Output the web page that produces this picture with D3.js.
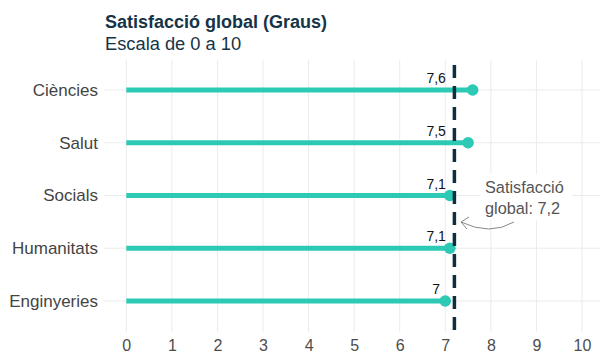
<!DOCTYPE html>
<html><head><meta charset="utf-8">
<script src="https://cdn.jsdelivr.net/npm/d3@7"></script>
<style>body{margin:0;background:#fff}svg{display:block;font-family:"Liberation Sans",Arial,sans-serif}</style>
</head><body><svg id="c" width="600" height="358"></svg>
<script>
const categories = ["Ciències","Salut","Socials","Humanitats","Enginyeries"];
const values = [7.6, 7.5, 7.1, 7.1, 7.0];
const valueLabels = ["7,6","7,5","7,1","7,1","7"];
const xTicks = [0,1,2,3,4,5,6,7,8,9,10];
const globalMean = 7.2;
const annotationLines = ["Satisfacció","global: 7,2"];
const title = "Satisfacció global (Graus)";
const subtitle = "Escala de 0 a 10";

(function(){
const svg = d3.select("#c");
const x = d3.scaleLinear().domain([0,10]).range([126.3,582]);
const y = d3.scalePoint().domain(categories).range([90,301]);
const pTop = 60, pBottom = 332, pLeft = 104, pRight = 600;
const teal = "#2ccab5", navy = "#0f2f40";

// grid
svg.append("g").selectAll("line").data(xTicks).join("line")
  .attr("x1",d=>x(d)).attr("x2",d=>x(d)).attr("y1",pTop).attr("y2",pBottom)
  .attr("stroke","#ebebeb").attr("stroke-width",1);
svg.append("g").selectAll("line").data(categories).join("line")
  .attr("x1",pLeft).attr("x2",pRight).attr("y1",d=>y(d)).attr("y2",d=>y(d))
  .attr("stroke","#ebebeb").attr("stroke-width",1);

// axes
const xa = svg.append("g").attr("transform",`translate(0,${pBottom})`)
  .call(d3.axisBottom(x).tickValues(xTicks).tickSize(0).tickPadding(8).tickFormat(d3.format("d")));
xa.select(".domain").remove();
xa.selectAll("text").attr("font-size",16).attr("fill","#4d4d4d").attr("font-family","Liberation Sans, Arial, sans-serif");

const ya = svg.append("g").attr("transform",`translate(${pLeft},0)`)
  .call(d3.axisLeft(y).tickSize(0).tickPadding(6));
ya.select(".domain").remove();
ya.selectAll("text").attr("font-size",17).attr("fill","#444").attr("font-family","Liberation Sans, Arial, sans-serif");

// lollipops
const rows = categories.map((c,i)=>({c, v:values[i], l:valueLabels[i]}));
svg.append("g").selectAll("line").data(rows).join("line")
  .attr("x1",x(0)).attr("x2",d=>x(d.v)).attr("y1",d=>y(d.c)).attr("y2",d=>y(d.c))
  .attr("stroke",teal).attr("stroke-width",5);
svg.append("g").selectAll("circle").data(rows).join("circle")
  .attr("cx",d=>x(d.v)).attr("cy",d=>y(d.c)).attr("r",5.8).attr("fill",teal);

// mean line
svg.append("line").attr("x1",x(globalMean)).attr("x2",x(globalMean))
  .attr("y1",pTop+5).attr("y2",pBottom+4)
  .attr("stroke",navy).attr("stroke-width",3.5).attr("stroke-dasharray","13,8");

// value labels
svg.append("g").selectAll("text").data(rows).join("text")
  .attr("x",x(6.8)).attr("y",d=>y(d.c)-7).attr("text-anchor","middle")
  .attr("font-size",14).attr("fill","#111").text(d=>d.l);

// annotation
const ag = svg.append("g");
ag.append("rect").attr("x",480).attr("y",174).attr("width",92).attr("height",46).attr("fill","#fff");
ag.selectAll("text").data(annotationLines).join("text")
  .attr("x",485).attr("y",(d,i)=>193+i*21).attr("font-size",16.3).attr("fill","#555").text(d=>d);
ag.append("path").attr("d","M514,222 Q490,236 461,222").attr("fill","none").attr("stroke","#888").attr("stroke-width",1);
ag.append("path").attr("d","M469,217 L461,222 L467,229").attr("fill","none").attr("stroke","#888").attr("stroke-width",1);

// titles
svg.append("text").attr("x",105).attr("y",28).attr("font-size",18).attr("font-weight","bold").attr("fill","#163447").text(title);
svg.append("text").attr("x",105).attr("y",50).attr("font-size",18.3).attr("fill","#163447").text(subtitle);
})();
</script></body></html>
